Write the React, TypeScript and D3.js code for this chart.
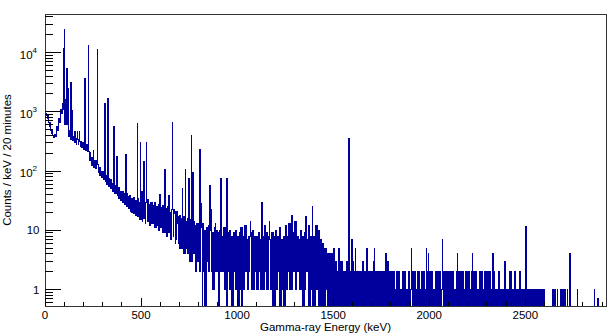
import React from "react";
import * as d3 from "d3";

const W = 611;
const H = 334;
const X_MAX = 2920;
const Y_MIN = 0.527;
const Y_MAX = 44700;
const ENV_STEP = 10; // keV per envelope bin

// Upper edge of the noisy continuum band, counts/keV, one value per 10 keV (0..2910)
const envHi = [
  950, 870, 660, 490, 400, 420, 560, 780, 1100, 1400,
  1600, 620, 480, 430, 390, 370, 350, 335, 315, 305,
  300, 275, 285, 205, 170, 148, 152, 128, 114, 100,
  98, 86, 84, 74, 71, 62, 58, 51, 52, 45,
  46, 41, 42, 37, 38, 34, 36, 32, 34, 30,
  32, 29, 30, 33, 27, 29, 26, 30, 25, 27,
  24, 26, 22, 23, 25, 20, 22, 19, 21, 17,
  18, 16, 17, 14, 16, 15, 13, 14, 12, 13,
  12, 11, 13, 10, 11, 12, 10, 9, 11, 10,
  9, 10, 8, 11, 9, 9, 10, 8, 9, 10,
  8, 9, 11, 8, 12, 7, 8, 9, 10, 8,
  8, 9, 7, 8, 12, 9, 8, 7, 9, 8,
  10, 8, 11, 7, 8, 12, 8, 13, 8, 9,
  14, 8, 7, 10, 8, 9, 7, 12, 8, 8,
  8, 12, 10, 7, 6, 5, 5, 4, 4, 4,
  3, 3, 2, 2, 3, 2, 2, 3, 2, 2,
  3, 2, 2, 2, 2, 3, 2, 2, 2, 2,
  2, 3, 2, 2, 2, 2, 2, 2, 3, 2,
  2, 2, 1, 2, 2, 1, 2, 2, 1, 2,
  1, 2, 2, 1, 2, 1, 2, 2, 1, 2,
  2, 2, 1, 2, 2, 2, 1, 2, 2, 2,
  2, 2, 2, 1, 2, 2, 2, 2, 1, 2,
  2, 1, 2, 2, 2, 1, 2, 2, 1, 2,
  2, 2, 1, 2, 1, 1, 2, 1, 1, 2,
  1, 1, 2, 1, 1, 1, 1, 2, 1, 1,
  1, 1, 1, 1, 1, 1, 1, 1, 1, 1,
  0, 0, 0, 0, 0, 0, 0, 0, 0, 0,
  0, 0, 0, 0, 0, 0, 0, 0, 0, 0,
  0, 0, 0, 0, 0, 0, 0, 0, 0, 0,
  0, 0,
];

// Lower edge of the continuum band, counts/keV, per 10 keV
const envLo = [
  850, 760, 560, 430, 370, 380, 480, 650, 950, 1100,
  600, 450, 390, 345, 325, 305, 285, 275, 255, 245,
  235, 220, 215, 150, 122, 115, 110, 96, 84, 78,
  72, 66, 60, 55, 51, 46, 42, 38, 35, 32,
  29, 27, 25, 23, 21, 20, 19, 18, 17, 15,
  14, 16, 13, 14, 12, 13, 13, 11, 12, 10,
  11, 9, 9, 8, 9, 7, 8, 6, 7, 6,
  5, 5, 4, 5, 4, 3, 3, 4, 2, 3,
  2, 0, 2, 0, 3, 2, 2, 1, 2, 2,
  0, 2, 2, 1, 0, 2, 1, 0, 2, 1,
  0, 1, 0, 1, 2, 1, 2, 1, 1, 2,
  1, 2, 1, 1, 2, 1, 1, 1, 0, 0,
  1, 2, 0, 1, 0, 1, 2, 1, 1, 2,
  1, 2, 1, 1, 0, 1, 2, 0, 1, 0,
  0, 1, 0, 0, 0, 0, 1, 0, 0, 0,
  0, 0, 0, 0, 0, 0, 0, 0, 0, 0,
  0, 0, 0, 0, 0, 0, 0, 0, 0, 0,
  0, 0, 0, 0, 0, 0, 0, 0, 0, 0,
  0, 0, 0, 0, 0, 0, 0, 0, 0, 0,
  0, 0, 0, 0, 0, 0, 0, 0, 0, 0,
  0, 0, 0, 0, 0, 0, 0, 0, 0, 0,
  0, 0, 0, 0, 0, 0, 0, 0, 0, 0,
  0, 0, 0, 0, 0, 0, 0, 0, 0, 0,
  0, 0, 0, 0, 0, 0, 0, 0, 0, 0,
  0, 0, 0, 0, 0, 0, 0, 0, 0, 0,
  0, 0, 0, 0, 0, 0, 0, 0, 0, 0,
  0, 0, 0, 0, 0, 0, 0, 0, 0, 0,
  0, 0, 0, 0, 0, 0, 0, 0, 0, 0,
  0, 0, 0, 0, 0, 0, 0, 0, 0, 0,
  0, 0,
];

// Narrow gamma lines: energy (keV) and height (counts/keV)
const peakE = [
  95, 100, 113, 118, 137, 142, 156, 168, 179,
  208, 226, 250, 274, 312, 329, 359, 373, 421, 480,
  495, 503, 515, 529, 598, 624, 647, 663, 674, 688,
  716, 731, 745, 749, 763, 772, 806, 814,
  858, 863, 889, 915, 945, 1069, 1128, 1168, 1286, 1358, 1390,
  1503, 1532, 1581, 1598, 1616, 1676, 1716, 1773, 1909, 1987,
  1995, 2068, 2146, 2226, 2330, 2393, 2447, 2504,
  2644, 2653, 2667, 2684, 2691, 2700, 2708, 2719, 2733, 2771, 2861, 2878,
];
const peakV = [
  11500, 24800, 5400, 2500, 3100, 1070, 460, 460, 460,
  3650, 12900, 225, 11300, 1400, 1650, 560, 175, 190, 640,
  300, 45, 144, 300, 40, 105, 38, 650, 22, 13,
  50, 105, 57, 75, 400, 95, 230, 28,
  57, 22, 13, 75, 75, 14, 29, 14, 18, 17, 25,
  5, 5, 355, 7, 5, 5, 5, 4, 5, 5,
  4, 7, 4, 4, 4, 3, 2, 11.5,
  1, 1, 1, 1, 1, 1, 1, 1, 4, 1, 1, 0.7,
];

const xTicks = [0, 500, 1000, 1500, 2000, 2500];
const yTicks = [1, 10, 100, 1000, 10000];
const yExp = [0, 1, 2, 3, 4];

const FONT = "'Liberation Sans', Arial, Helvetica, sans-serif";

export default function App() {
  const left = 45;
  const right = 606;
  const top = 14;
  const bottom = 306;
  const x = d3.scaleLinear().domain([0, X_MAX]).range([left, right]);
  const y = d3.scaleLog().domain([Y_MIN, Y_MAX]).range([bottom, top]);

  // Each 10 keV envelope bin is drawn as four 2.5 keV sub-bins: hi, lo, hi, lo
  const SUB = 4;
  const sub = ENV_STEP / SUB;
  const nSub = Math.ceil(X_MAX / sub);
  const vals: number[] = new Array(nSub).fill(0);
  for (let i = 0; i < envHi.length; i++) {
    for (let k = 0; k < SUB; k++) {
      const j = SUB * i + k;
      if (j < nSub) vals[j] = k % 2 === 0 ? envHi[i] : envLo[i];
    }
  }
  peakE.forEach((e, k) => {
    const idx = Math.floor(e / sub);
    if (idx >= 0 && idx < nSub) vals[idx] = Math.max(vals[idx], peakV[k]);
  });
  const pts: [number, number][] = vals.map((v, j) => [j * sub, v]);
  pts.push([X_MAX, vals[nSub - 1]]);
  const yv = (v: number) => (v <= Y_MIN ? bottom : y(v));
  const line = d3
    .line<[number, number]>()
    .x((d) => x(Math.min(d[0], X_MAX)))
    .y((d) => yv(d[1]))
    .curve(d3.curveStepAfter);
  const pathD = line(pts) || "";

  // minor ticks
  const xMinor: number[] = [];
  for (let e = 100; e < X_MAX; e += 100) if (e % 500 !== 0) xMinor.push(e);
  const yMinor: number[] = [];
  for (let p = -1; p <= 4; p++) {
    for (let m = 2; m <= 9; m++) {
      const v = m * Math.pow(10, p);
      if (v > Y_MIN && v < Y_MAX) yMinor.push(v);
    }
  }

  return (
    <svg
      width={W}
      height={H}
      style={{ position: "absolute", left: 0, top: 0, background: "#fff" }}
      fontFamily={FONT}
    >
      <rect x={0} y={0} width={W} height={H} fill="#fff" />
      <defs>
        <clipPath id="plotclip">
          <rect x={left} y={top} width={right - left} height={bottom - top} />
        </clipPath>
      </defs>
      <path
        d={pathD}
        fill="none"
        stroke="#00009c"
        strokeWidth={1}
        shapeRendering="crispEdges"
        clipPath="url(#plotclip)"
      />
      {/* frame */}
      <rect
        x={left}
        y={top}
        width={right - left}
        height={bottom - top}
        fill="none"
        stroke="#333"
        strokeWidth={1}
        shapeRendering="crispEdges"
      />
      {/* ticks */}
      <g shapeRendering="crispEdges" stroke="#000">
        {xTicks.map((t) => (
          <line key={"xt" + t} x1={x(t)} x2={x(t)} y1={bottom} y2={bottom - 8} />
        ))}
        {xMinor.map((t) => (
          <line key={"xm" + t} x1={x(t)} x2={x(t)} y1={bottom} y2={bottom - 4} />
        ))}
        {yTicks.map((t) => (
          <line key={"yt" + t} x1={left} x2={left + 16} y1={y(t)} y2={y(t)} />
        ))}
        {yMinor.map((t) => (
          <line key={"ym" + t} x1={left} x2={left + 8} y1={y(t)} y2={y(t)} />
        ))}
      </g>
      {xTicks.map((t) => (
        <text
          key={"xl" + t}
          x={x(t)}
          y={318.5}
          fontSize={11.5}
          textAnchor="middle"
          fill="#000"
        >
          {t}
        </text>
      ))}
      {yTicks.map((t, i) =>
        yExp[i] < 2 ? (
          <text
            key={"yl" + t}
            x={39.5}
            y={y(t) + 4}
            fontSize={11.5}
            textAnchor="end"
            fill="#000"
          >
            {t}
          </text>
        ) : (
          <text
            key={"yl" + t}
            x={37}
            y={y(t) + 6}
            fontSize={11.5}
            textAnchor="end"
            fill="#000"
          >
            10
            <tspan fontSize={8} dy={-6}>
              {yExp[i]}
            </tspan>
          </text>
        )
      )}
      <text
        x={(left + right) / 2}
        y={331}
        fontSize={11.5}
        textAnchor="middle"
        fill="#000"
      >
        Gamma-ray Energy (keV)
      </text>
      <text
        transform={`translate(11,${(top + bottom) / 2}) rotate(-90)`}
        fontSize={11.5}
        textAnchor="middle"
        fill="#000"
      >
        Counts / keV / 20 minutes
      </text>
    </svg>
  );
}
